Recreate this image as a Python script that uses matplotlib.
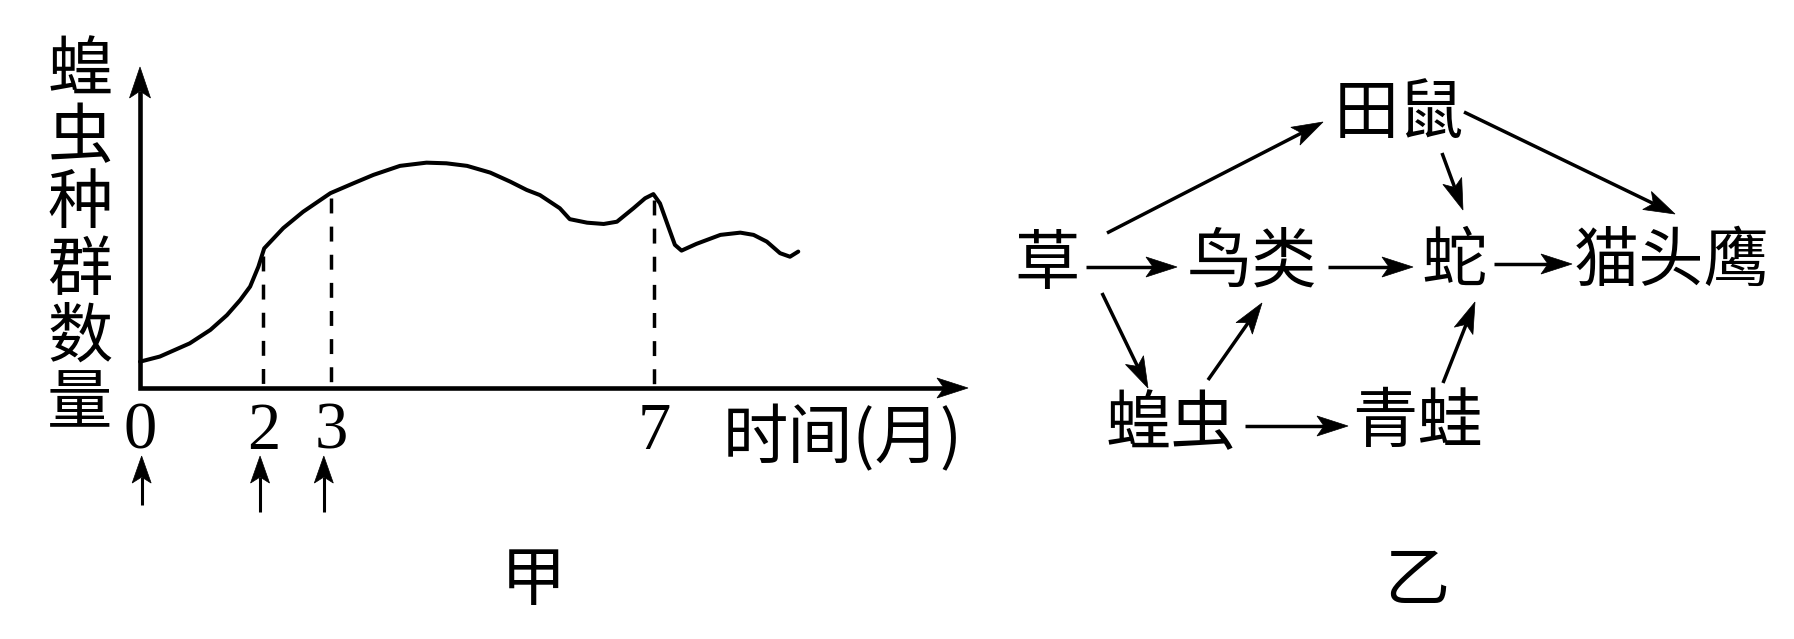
import numpy as np
import matplotlib
matplotlib.use('Agg')
import matplotlib.pyplot as plt
from matplotlib.patches import Polygon

plt.rcParams['font.family'] = ['Noto Sans CJK SC', 'DejaVu Sans']

# ---- 甲: locust population curve (schematic units, axis runs 0..100) ----
curve_x = [0.0, 2.4, 6.0, 8.5, 10.5, 12.1, 13.3, 14.3, 15.0, 17.3, 19.7, 23.0,
           25.8, 28.2, 31.4, 34.6, 37.0, 39.5, 42.3, 44.7, 46.7, 48.3, 50.7, 51.9,
           54.0, 56.0, 57.6, 59.6, 61.0, 62.0, 62.8, 63.8, 64.6, 65.4, 67.2, 70.1,
           72.5, 74.1, 75.7, 77.3, 78.5, 79.5]
curve_y = [8.2, 9.8, 13.9, 18.1, 22.7, 27.4, 31.6, 37.8, 43.5, 49.8, 54.9, 60.7,
           63.8, 66.4, 69.2, 70.2, 70.0, 69.2, 67.1, 64.3, 61.7, 60.1, 56.0, 52.6,
           51.5, 51.1, 51.8, 56.0, 59.1, 60.4, 57.5, 50.3, 44.6, 42.8, 44.9, 47.7,
           48.4, 47.7, 45.6, 42.0, 40.9, 42.5]
tick_pos = [0, 14.9, 23.1, 62.1]
tick_labels = ['0', '2', '3', '7']
dashed_at = [14.9, 23.1, 62.1]
event_x = [0.2, 14.5, 22.2]          # small arrows under months 0, 2, 3
event_tail = [-36.4, -38.6, -38.6]
event_tip = [-21.2, -21.2, -21.2]
y_label = '蝗虫种群数量'
x_label = '时间(月)'

# ---- 乙: food web ----
nodes = ['田鼠', '草', '鸟类', '蛇', '猫头鹰', '蝗虫', '青蛙']
edges = [('草', '鸟类'), ('鸟类', '蛇'), ('蛇', '猫头鹰'), ('蝗虫', '青蛙'),
         ('草', '田鼠'), ('草', '蝗虫'), ('蝗虫', '鸟类'), ('青蛙', '蛇'),
         ('田鼠', '蛇'), ('田鼠', '猫头鹰')]

# layout in pixels (figure is 1794 x 639)
W, H = 1794, 639
node_xy = {'田鼠': (1399, 115), '草': (1047, 266), '鸟类': (1252, 263), '蛇': (1454, 263),
           '猫头鹰': (1672, 263), '蝗虫': (1171, 426), '青蛙': (1417, 424)}
edge_ends = {
    ('草', '鸟类'): ((1086, 267), (1177, 267)),
    ('鸟类', '蛇'): ((1328, 267), (1413, 267)),
    ('蛇', '猫头鹰'): ((1494, 264), (1572, 264)),
    ('蝗虫', '青蛙'): ((1245, 426), (1348, 426)),
    ('草', '田鼠'): ((1107, 233), (1323, 122)),
    ('草', '蝗虫'): ((1102, 293), (1148, 388)),
    ('蝗虫', '鸟类'): ((1208, 380), (1262, 303)),
    ('青蛙', '蛇'): ((1443, 383), (1475, 302)),
    ('田鼠', '蛇'): ((1442, 153), (1463, 210)),
    ('田鼠', '猫头鹰'): ((1464, 112), (1675, 214)),
}

FS = 47
fig = plt.figure(figsize=(W / 100, H / 100), dpi=100)

ax = fig.add_axes([140 / W, 1 - 388 / H, 828 / W, 321 / H])
ax.set_xlim(0, 100)
ax.set_ylim(0, 100)
ax.patch.set_visible(False)
for s in ax.spines.values():
    s.set_visible(False)
ax.set_yticks([])
ax.set_xticks(tick_pos, tick_labels, fontfamily='Liberation Serif', fontsize=48)
ax.tick_params(axis='x', length=0, pad=10)

ax.plot(curve_x, curve_y, color='k', lw=2.9, clip_on=False,
        solid_joinstyle='round', solid_capstyle='round')
for xd in dashed_at:
    top = np.interp(xd, curve_x, curve_y)
    ax.plot([xd, xd], [top - 1.5, 0], color='k', lw=2.5, dashes=(4.3, 3.8), clip_on=False)

# pixel overlay for arrows and labels
ov = fig.add_axes([0, 0, 1, 1], zorder=5)
ov.set_xlim(0, W)
ov.set_ylim(H, 0)
ov.axis('off')


def to_px(x, y):
    d = ax.transData.transform((x, y))
    return ov.transData.inverted().transform(d)


def head(p0, p1, hl, hw, notch):
    p0 = np.asarray(p0, float)
    p1 = np.asarray(p1, float)
    d = (p1 - p0) / np.hypot(*(p1 - p0))
    n = np.array([-d[1], d[0]])
    base = p1 - d * hl
    back = p1 - d * (hl - notch)
    ov.add_patch(Polygon([p1, base + n * hw, back, base - n * hw], closed=True,
                         fc='k', ec='k', lw=0.5))
    return back


def arrow(p0, p1, lw=2.5, hl=31, hw=10, notch=7):
    back = head(p0, p1, hl, hw, notch)
    ov.plot([p0[0], back[0]], [p0[1], back[1]], color='k', lw=lw, solid_capstyle='butt')


# axes with arrow heads
o = to_px(0, 0)
ytip = to_px(0, 100)
xtip = to_px(100, 0)
yb = head(o, ytip, 31, 10.5, 7)
xb = head(o, xtip, 31, 10, 7)
ov.plot([yb[0], o[0], xb[0]], [yb[1], o[1], xb[1]], color='k', lw=3.3,
        solid_joinstyle='miter', solid_capstyle='butt')

for xe, t0, t1 in zip(event_x, event_tail, event_tip):
    arrow(to_px(xe, t0), to_px(xe, t1), lw=2.2, hl=27, hw=9.5, notch=6)

# y label, one character per line
for i, ch in enumerate(y_label):
    ov.text(80, 72 + i * 66.6, ch, fontsize=FS, ha='center', va='center')
ov.text(723, 440, x_label, fontsize=FS, ha='left', va='center')
ov.text(533, 582, '甲', fontsize=FS, ha='center', va='center')

# food web
for name in nodes:
    x, y = node_xy[name]
    ov.text(x, y, name, fontsize=FS, ha='center', va='center')
for e in edges:
    p0, p1 = edge_ends[e]
    arrow(p0, p1)
ov.text(1417, 582, '乙', fontsize=FS, ha='center', va='center')

fig.savefig('out.png', dpi=100, facecolor='white')
